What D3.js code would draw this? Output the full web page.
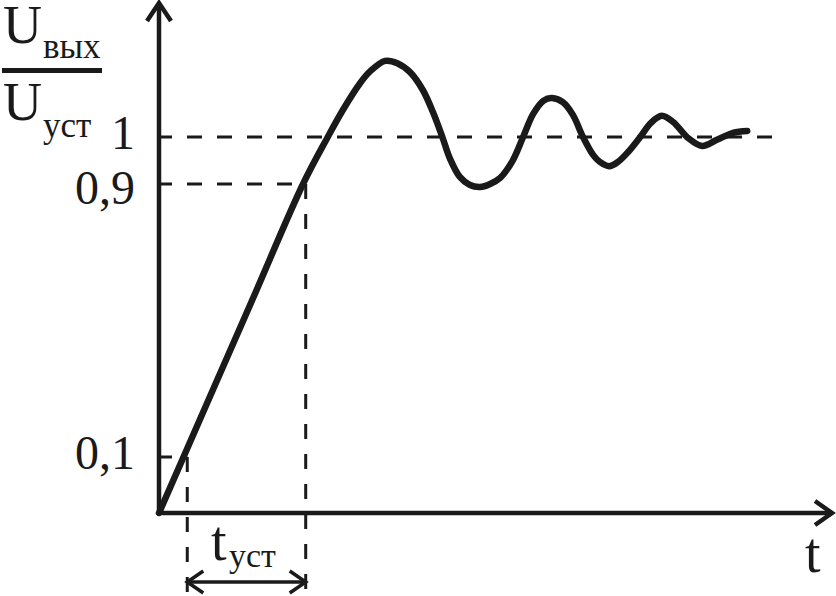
<!DOCTYPE html>
<html>
<head>
<meta charset="utf-8">
<script src="https://cdn.jsdelivr.net/npm/d3@7"></script>
<style>
    body { margin: 0; background: #fff; }
    text { font-family: "Liberation Serif", "DejaVu Serif", serif; fill: #1a1a1a; }
</style>
</head>
<body>
<script>
// step response (time in arbitrary units, output as U/Uуст)
let tValues = [0, 1.35, 2.14, 2.50, 2.73, 2.99, 3.14, 3.36, 3.54, 3.73, 3.92, 4.07, 4.21, 4.32, 4.47, 4.62, 4.77,
    4.92, 5.07, 5.26, 5.41, 5.56, 5.71, 5.84, 6.00, 6.15, 6.30, 6.45, 6.55, 6.69, 6.82, 6.97, 7.15, 7.31, 7.47,
    7.64, 7.86, 8.07, 8.29, 8.53, 8.74];
let uValues = [0, 0.544, 0.9, 0.998, 1.057, 1.115, 1.140, 1.162, 1.157, 1.138, 1.100, 1.053, 1, 0.955, 0.915, 0.897, 0.891,
    0.9, 0.913, 0.951, 1, 1.049, 1.077, 1.083, 1.074, 1.047, 1, 0.962, 0.947, 0.938, 0.947, 0.968, 1, 1.030, 1.045,
    1.032, 0.998, 0.981, 0.994, 1.009, 1.013];

// reference levels, their labels and where their dashed lines stop
let levels = [0.1, 0.9, 1];
let levelLabels = ["0,1", "0,9", "1"];
let levelEnds = [0.42, 2.18, 9.17];

// settling time markers
let tSettle = [0.42, 2.18];

const WIDTH = 836, HEIGHT = 596;
const INK = "#1a1a1a";

let svg = d3.select("body")
    .append("svg")
    .attr("width", WIDTH)
    .attr("height", HEIGHT);

// scales (the sketch is not to scale, so y is piecewise)
let x = d3.scaleLinear()
    .domain([0, 10])
    .range([159, 832]);
let y = d3.scaleLinear()
    .domain([0, 0.1, 0.9, 1])
    .range([513, 457, 184, 137]);

// dashed guide lines
let dash = svg.append("g")
    .attr("stroke", INK)
    .attr("stroke-width", 3)
    .attr("stroke-dasharray", "15,15");

for (let i = 0; i < levels.length; i++) {
    dash.append("line")
        .attr("x1", x(0) - 2)
        .attr("x2", x(levelEnds[i]))
        .attr("y1", y(levels[i]))
        .attr("y2", y(levels[i]));
}
dash.append("line")
    .attr("x1", x(tSettle[0])).attr("x2", x(tSettle[0]))
    .attr("y1", y(0.1)).attr("y2", HEIGHT);
dash.append("line")
    .attr("x1", x(tSettle[1])).attr("x2", x(tSettle[1]))
    .attr("y1", y(0.9)).attr("y2", HEIGHT);

// axes with open arrow heads
let axes = svg.append("g")
    .attr("stroke", INK)
    .attr("stroke-width", 4.5)
    .attr("fill", "none");

axes.append("line")
    .attr("x1", x(0)).attr("x2", x(0))
    .attr("y1", y(0) + 2).attr("y2", 3);
axes.append("path")
    .attr("d", `M${x(0) - 12},21 L${x(0)},3 L${x(0) + 12},21`);
axes.append("line")
    .attr("x1", x(0) - 2).attr("x2", 831)
    .attr("y1", y(0)).attr("y2", y(0));
axes.append("path")
    .attr("d", `M815,${y(0) - 12} L832,${y(0)} L815,${y(0) + 12}`);

// the response curve
let line = d3.line()
    .x(function(d, i) { return x(tValues[i]); })
    .y(function(d, i) { return y(uValues[i]); })
    .curve(d3.curveCatmullRom.alpha(0.5));

svg.append("path")
    .datum(tValues)
    .attr("d", line)
    .attr("fill", "none")
    .attr("stroke", INK)
    .attr("stroke-width", 6.5)
    .attr("stroke-linecap", "round")
    .attr("stroke-linejoin", "round");

// double arrow for t_уст
let ya = 582;
let span = svg.append("g")
    .attr("stroke", INK)
    .attr("stroke-width", 3.5)
    .attr("fill", "none");
span.append("line")
    .attr("x1", x(tSettle[0])).attr("x2", x(tSettle[1]))
    .attr("y1", ya).attr("y2", ya);
span.append("path")
    .attr("d", `M${x(tSettle[0]) + 16},${ya - 11} L${x(tSettle[0])},${ya} L${x(tSettle[0]) + 16},${ya + 11}`);
span.append("path")
    .attr("d", `M${x(tSettle[1]) - 16},${ya - 11} L${x(tSettle[1])},${ya} L${x(tSettle[1]) - 16},${ya + 11}`);

// level labels
for (let i = 0; i < levels.length; i++) {
    svg.append("text")
        .attr("x", 135)
        .attr("y", y(levels[i]) + (levels[i] == 0.9 ? 20 : 12))
        .style("text-anchor", "end")
        .style("font-size", "48px")
        .text(levelLabels[i]);
}

// y axis label as a fraction
svg.append("text").attr("x", 3).attr("y", 43).style("font-size", "54px").text("U");
svg.append("text").attr("x", 43).attr("y", 58).style("font-size", "35px").text("вых");
svg.append("rect").attr("x", 2).attr("y", 68).attr("width", 100).attr("height", 5).attr("fill", INK);
svg.append("text").attr("x", 3).attr("y", 120).style("font-size", "54px").text("U");
svg.append("text").attr("x", 43).attr("y", 137).style("font-size", "35px").text("уст");

// x axis label
svg.append("text").attr("x", 805).attr("y", 572).style("font-size", "56px").text("t");

// settling time label
svg.append("text").attr("x", 211).attr("y", 560).style("font-size", "56px").text("t");
svg.append("text").attr("x", 229).attr("y", 567).style("font-size", "34px").text("уст");
</script>
</body>
</html>
